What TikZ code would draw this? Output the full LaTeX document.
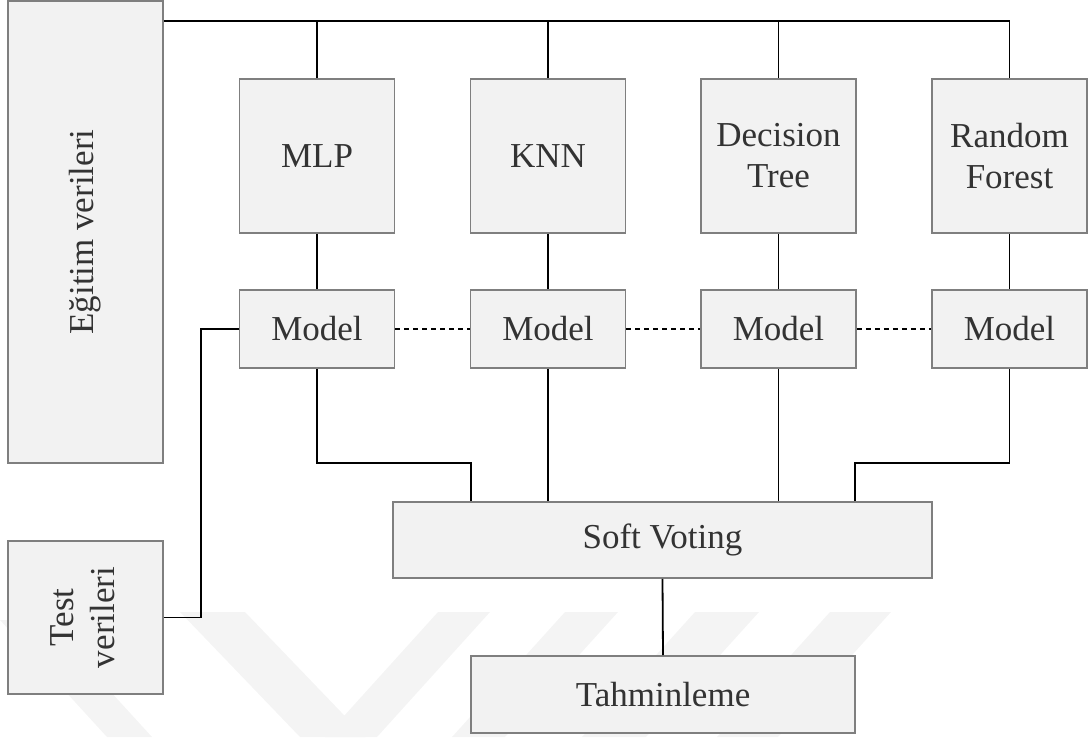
\documentclass[tikz,border=0pt]{standalone}
\usepackage{fontspec}
\setmainfont{Liberation Serif}
\usetikzlibrary{calc}
\definecolor{boxfill}{HTML}{F2F2F2}
\definecolor{boxline}{HTML}{7F7F7F}
\definecolor{txt}{HTML}{333333}
\definecolor{wm}{HTML}{F4F4F4}
\tikzset{
  box/.style={draw=boxline, line width=1.6pt, fill=boxfill, text=txt, inner sep=0pt,
    font=\fontsize{35}{41}\selectfont, align=center, anchor=center},
  conn/.style={draw=black, line width=1.8pt},
  dconn/.style={conn, line width=1.6pt, dash pattern=on 5pt off 4pt},
  wmark/.style={fill=wm, draw=none}
}
\begin{document}
\begin{tikzpicture}[x=1pt, y=-1pt]
\useasboundingbox (0,0) rectangle (1090,737);
% watermark
\begin{scope}
\clip (0,0) rectangle (1090,737);
\fill[wmark] (0,620) -- (45,620) -- (152,737) -- (107,737) -- cycle;
\fill[wmark] (180,612) -- (245,612) -- (365,737) -- (300,737) -- cycle;
\fill[wmark] (438,612) -- (490,612) -- (377,737) -- (325,737) -- cycle;
\fill[wmark] (565,612) -- (618,612) -- (505,737) -- (452,737) -- cycle;
\fill[wmark] (695,612) -- (759,612) -- (646,737) -- (582,737) -- cycle;
\fill[wmark] (830,612) -- (891,612) -- (778,737) -- (717,737) -- cycle;
\end{scope}
% boxes
\node[box, minimum width=155pt, minimum height=462pt] (egitim) at (85.5,232) {\rotatebox{90}{Eğitim verileri}};
\node[box, minimum width=155pt, minimum height=153pt] (test) at (85.5,617.5) {\rotatebox{90}{\begin{tabular}{@{}c@{}}Test\\verileri\end{tabular}}};
\node[box, minimum width=155pt, minimum height=154pt] (mlp) at (317,156) {MLP};
\node[box, minimum width=155pt, minimum height=154pt] (knn) at (548,156) {KNN};
\node[box, minimum width=155pt, minimum height=154pt] (dt) at (778.5,156) {Decision\\Tree};
\node[box, minimum width=155pt, minimum height=154pt] (rf) at (1009.5,156) {Random\\Forest};
\node[box, minimum width=155pt, minimum height=78pt] (m1) at (317,329) {Model};
\node[box, minimum width=155pt, minimum height=78pt] (m2) at (548,329) {Model};
\node[box, minimum width=155pt, minimum height=78pt] (m3) at (778.5,329) {Model};
\node[box, minimum width=155pt, minimum height=78pt] (m4) at (1009.5,329) {Model};
\node[box, minimum width=539pt, minimum height=76pt] (sv) at (662.5,540) {Soft Voting};
\node[box, minimum width=384pt, minimum height=77pt] (th) at (663,694.5) {Tahminleme};
% helper coordinates
\coordinate (topline) at (0,21);
\coordinate (j1) at (471,463);
\coordinate (j4) at (855,463);
% connectors
\draw[conn] (egitim.east |- topline) -| (rf.north);
\draw[conn] (mlp.north) -- (mlp.north |- topline);
\draw[conn] (knn.north) -- (knn.north |- topline);
\draw[conn] (dt.north) -- (dt.north |- topline);
\draw[conn] (mlp.south) -- (m1.north);
\draw[conn] (knn.south) -- (m2.north);
\draw[conn] (dt.south) -- (m3.north);
\draw[conn] (rf.south) -- (m4.north);
\draw[dconn] (m1.east) -- (m2.west);
\draw[dconn] (m2.east) -- (m3.west);
\draw[dconn] (m3.east) -- (m4.west);
\draw[conn] (m1.west) -- ++(-38,0) |- (test.east);
\draw[conn] (m1.south) |- (j1) -- (j1 |- sv.north);
\draw[conn] (m2.south) -- (m2.south |- sv.north);
\draw[conn] (m3.south) -- (m3.south |- sv.north);
\draw[conn] (m4.south) |- (j4) -- (j4 |- sv.north);
\draw[conn] (sv.south) -- (th.north);
\end{tikzpicture}
\end{document}
